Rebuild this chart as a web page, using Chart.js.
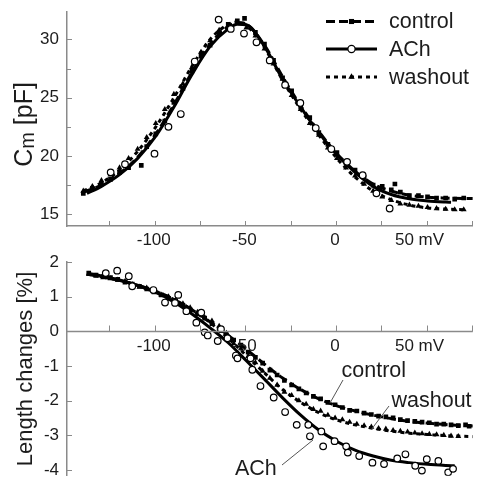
<!DOCTYPE html>
<html><head><meta charset="utf-8">
<script src="https://cdn.jsdelivr.net/npm/chart.js@4.4.1/dist/chart.umd.min.js"></script>
<style>
html,body{margin:0;padding:0;background:#fff;}
body{width:478px;height:481px;position:relative;overflow:hidden;}
canvas{position:absolute;left:0;}
#topChart{top:0}
#botChart{top:240px}
</style></head><body>
<canvas id="topChart" width="478" height="250"></canvas>
<canvas id="botChart" width="478" height="241"></canvas>
<script>
// ---------- axis ticks / labels ----------
const xTickMarks = [-125,-100,-75,-50,-25,0,25,50,75];
const xLabelValues = [-100,-50,0,50];
const xLabelTexts = ['-100','-50','0','50 mV'];
const cmTickLabels = [15,20,25,30];
const cmTickMarks = [15,17.5,20,22.5,25,27.5,30];
const lenTickLabels = [2,1,0,-1,-2,-3,-4];
const seriesNames = ['control','ACh','washout'];

// ---------- top panel: Cm [pF] ----------
// fitted curves
const cmFitVoltsControl = [-140,-130,-120,-110,-100,-90,-80,-70,-60,-55,-50,-40,-30,-20,-10,0,10,20,30,40,50,60,70,75];
const cmFitControl      = [16.9,17.5,18.5,19.9,21.9,24.4,27.2,29.6,31.1,31.45,31.3,29.5,26.8,24.3,22.1,20.2,18.7,17.6,17.0,16.65,16.47,16.4,16.36,16.35];
const cmFitVoltsACh     = [-138,-130,-120,-110,-100,-90,-80,-70,-60,-55,-50,-40,-30,-20,-10,0,10,20,30,40,50,60,63];
const cmFitACh          = [16.8,17.4,18.4,19.8,21.7,24.2,27.0,29.4,30.9,31.3,31.25,29.4,26.6,24.2,22.0,20.1,18.6,17.4,16.7,16.33,16.15,16.05,16.03];
const cmFitVoltsWashout = [-140,-130,-120,-110,-100,-90,-80,-70,-60,-55,-50,-40,-30,-20,-10,0,10,20,30,40,50,60,70];
const cmFitWashout      = [17.0,17.7,18.8,20.4,22.5,25.0,27.7,30.0,31.3,31.5,31.2,29.3,26.5,24.0,21.8,19.8,18.2,17.0,16.25,15.8,15.55,15.45,15.4];
// measured points
const cmControlVolts = [-140,-135,-130,-125,-120,-115,-108,-105,-100,-95,-90,-85,-80,-75,-70,-65,-60,-55,-51,-45,-40,-35,-30,-25,-20,-15,-10,-5,0,5,10,15,20,25,30,32,35,40,45,50,55,60,65,70];
const cmControl      = [16.8,17.2,17.6,18.0,18.6,19.0,19.2,20.8,21.9,23.0,24.6,25.8,27.3,28.6,29.5,30.6,31.3,31.6,31.8,30.6,29.6,28.2,26.7,25.6,24.2,23.3,22.0,21.0,20.3,19.4,18.8,18.2,17.5,17.4,17.1,17.6,16.9,16.6,16.6,16.5,16.4,16.4,16.3,16.4];
const cmAChVolts = [-124.9,-117,-100.7,-93,-86.2,-78.5,-65.3,-58.6,-51.3,-44.4,-37.1,-28.6,-20.2,-11.7,-3.1,5.6,14.2,21.8,29.1];
const cmACh      = [18.6,19.3,20.2,22.5,23.6,28.1,31.7,30.9,30.5,29.75,28.2,26.1,24.55,22.4,20.6,19.5,18.35,16.8,15.5];
const cmWashoutVolts = [-140,-135,-130,-125,-120,-115,-110,-105,-100,-95,-90,-85,-80,-75,-70,-65,-60,-55,-50,-45,-40,-35,-30,-25,-20,-15,-10,-5,0,5,10,15,20,25,30,35,40,45,50,55,60,65,70];
const cmWashout      = [17.0,17.4,17.9,18.4,19.0,19.8,20.6,21.6,22.8,24.0,25.3,26.2,27.6,28.9,29.9,30.8,31.2,31.4,31.0,30.3,29.2,27.9,26.6,25.2,24.0,22.8,21.8,20.7,19.8,19.0,18.3,17.6,17.0,16.5,16.2,15.9,15.8,15.7,15.6,15.5,15.45,15.4,15.4];

// ---------- bottom panel: Length changes [%] ----------
const lenFitVolts        = [-138,-130,-120,-110,-100,-90,-80,-70,-60,-50,-40,-30,-20,-10,0,10,20,30,40,50,60,70,75];
const lenFitControl      = [1.65,1.57,1.47,1.33,1.15,0.92,0.62,0.27,-0.12,-0.52,-0.95,-1.35,-1.68,-1.95,-2.15,-2.3,-2.42,-2.52,-2.6,-2.65,-2.69,-2.72,-2.73];
const lenFitWashout      = [1.65,1.57,1.47,1.33,1.15,0.92,0.62,0.25,-0.2,-0.7,-1.2,-1.68,-2.05,-2.35,-2.56,-2.7,-2.8,-2.88,-2.94,-2.98,-3.01,-3.03,-3.04];
const lenFitVoltsACh     = [-138,-130,-120,-110,-100,-90,-80,-70,-60,-50,-40,-30,-20,-10,0,10,20,30,40,50,60,65];
const lenFitACh          = [1.68,1.6,1.48,1.32,1.12,0.85,0.5,0.1,-0.33,-0.85,-1.38,-1.92,-2.42,-2.85,-3.18,-3.43,-3.6,-3.72,-3.79,-3.84,-3.87,-3.88];
const lenControlVolts = [-137,-133,-129,-125,-121,-117,-113,-109,-105,-101,-97,-93,-89,-85,-81,-77,-73,-69,-65,-61,-57,-53,-49,-45,-41,-37,-33,-29,-25,-21,-17,-13,-9,-5,-1,3,7,11,15,19,23,27,31,35,39,43,47,51,55,59,63,67,71,73];
const lenControl      = [1.68,1.62,1.58,1.55,1.5,1.42,1.36,1.3,1.22,1.14,1.05,0.95,0.88,0.75,0.62,0.5,0.38,0.22,0.08,-0.1,-0.25,-0.4,-0.6,-0.75,-0.92,-1.12,-1.26,-1.42,-1.55,-1.66,-1.78,-1.88,-1.95,-2.05,-2.12,-2.2,-2.28,-2.3,-2.36,-2.4,-2.45,-2.47,-2.5,-2.55,-2.58,-2.6,-2.62,-2.64,-2.68,-2.68,-2.7,-2.72,-2.7,-2.74];
const lenWashoutVolts = [-137,-133,-129,-125,-121,-117,-113,-109,-105,-101,-97,-93,-89,-85,-81,-77,-73,-69,-65,-61,-57,-53,-49,-45,-41,-37,-33,-29,-25,-21,-17,-13,-9,-5,-1,3,7,11,15,19,23,27,31,35,39,43,47,51,55,59,63,67];
const lenWashout      = [1.65,1.6,1.55,1.52,1.48,1.44,1.35,1.28,1.25,1.18,1.05,1.0,0.9,0.8,0.68,0.55,0.4,0.3,0.15,-0.05,-0.35,-0.5,-0.72,-0.9,-1.15,-1.35,-1.55,-1.75,-1.85,-2.0,-2.1,-2.25,-2.3,-2.42,-2.5,-2.55,-2.62,-2.68,-2.72,-2.76,-2.8,-2.82,-2.86,-2.88,-2.9,-2.93,-2.95,-2.97,-2.98,-3.0,-3.02,-3.03];
const lenAChVolts = [-127.6,-121.3,-114.9,-113,-101.3,-94.9,-89.4,-87.6,-83.1,-77.6,-74.9,-73,-71.3,-65.8,-64,-60.4,-55.8,-54.9,-47.7,-46.7,-42.2,-34.9,-28.6,-22.2,-15.8,-14.9,-8.6,-7.6,-1.3,5.1,6,12.3,19.6,26,33.3,37.8,43.2,46.9,49.6,56,61.4,64.1];
const lenACh      = [1.68,1.75,1.59,1.3,1.19,0.83,0.82,1.05,0.58,0.25,0.54,-0.03,-0.12,-0.28,0.06,-0.2,-0.7,-0.78,-0.78,-1.11,-1.58,-1.91,-2.33,-2.7,-2.7,-3.03,-2.89,-3.32,-3.17,-3.32,-3.5,-3.6,-3.79,-3.83,-3.67,-3.55,-3.88,-4.02,-3.69,-3.74,-4.07,-3.97];

// ---------- styling ----------
const FONT = '"Liberation Sans", Arial, Helvetica, sans-serif';
const AXIS = '#8a8a8a';
const TEXT = '#1c1c1c';
Chart.defaults.font.family = FONT;
Chart.defaults.color = TEXT;

const toXY = (xs, ys) => xs.map((v, i) => ({x: v, y: ys[i]}));
const styles = {
  control: {dash: [9, 4], point: 'rect', fill: '#000', radius: 3.3, bw: 0},
  ACh:     {dash: [],     point: 'circle', fill: '#fff', radius: 3.3, bw: 1.2},
  washout: {dash: [4, 4], point: 'triangle', fill: '#000', radius: 3.4, bw: 0}
};
function fitDs(name, xs, ys, order) {
  return {label: name + ' fit', data: toXY(xs, ys), showLine: true, borderColor: '#000', borderWidth: 3,
    borderDash: styles[name].dash, pointRadius: 0, cubicInterpolationMode: 'monotone', order: order};
}
function ptDs(name, xs, ys, order) {
  const s = styles[name];
  return {label: name, data: toXY(xs, ys), showLine: false, pointStyle: s.point, pointRadius: s.radius,
    backgroundColor: s.fill, borderColor: '#000', borderWidth: s.bw, order: order};
}

function drawMarker(ctx, name, x, y) {
  const s = styles[name];
  ctx.save();
  ctx.fillStyle = s.fill; ctx.strokeStyle = '#000'; ctx.lineWidth = s.bw || 0.001;
  if (Chart.helpers && Chart.helpers.drawPoint) {
    Chart.helpers.drawPoint(ctx, {pointStyle: s.point, radius: s.radius + 0.3, rotation: 0, borderWidth: s.bw}, x, y);
  }
  ctx.restore();
}

function rotatedTitle(ctx, cx, cy, parts) {
  ctx.save();
  ctx.translate(cx, cy); ctx.rotate(-Math.PI / 2);
  ctx.fillStyle = TEXT; ctx.textAlign = 'left'; ctx.textBaseline = 'alphabetic';
  let total = 0;
  parts.forEach(p => { ctx.font = p.size + 'px ' + FONT; p.w = ctx.measureText(p.t).width; total += p.w; });
  let sx = -total / 2;
  parts.forEach(p => { ctx.font = p.size + 'px ' + FONT; ctx.fillText(p.t, sx, p.dy || 0); sx += p.w; });
  ctx.restore();
}

const topDecor = {
  id: 'topDecor',
  afterDraw(chart) {
    const {ctx, chartArea: a, scales: {x, y}} = chart;
    ctx.save();
    ctx.strokeStyle = AXIS; ctx.lineWidth = 1;
    ctx.beginPath();
    xTickMarks.forEach(v => { const p = Math.round(x.getPixelForValue(v)) - 0.5; ctx.moveTo(p, a.bottom); ctx.lineTo(p, a.bottom - 5); });
    cmTickMarks.forEach(v => { const p = Math.round(y.getPixelForValue(v)) + 0.5; const len = (v % 5 === 0) ? 5 : 4; ctx.moveTo(a.left, p); ctx.lineTo(a.left + len, p); });
    ctx.stroke();
    ctx.fillStyle = TEXT; ctx.font = '17px ' + FONT; ctx.textAlign = 'center'; ctx.textBaseline = 'alphabetic';
    xLabelValues.forEach((v, i) => {
      const t = xLabelTexts[i]; const shift = t.indexOf('mV') >= 0 ? -8 : -2;
      ctx.fillText(t, x.getPixelForValue(v) + shift, a.bottom + 19);
    });
    rotatedTitle(ctx, 32, 124.5, [{t: 'C', size: 25}, {t: 'm', size: 20, dy: 2}, {t: ' [pF]', size: 25}]);
    // legend
    const rowsY = [21.5, 49, 77];
    const names = ['control', 'ACh', 'washout'];
    names.forEach((n, i) => {
      const ly = rowsY[i];
      ctx.save();
      ctx.strokeStyle = '#000'; ctx.lineWidth = 3; ctx.setLineDash(styles[n].dash);
      ctx.beginPath(); ctx.moveTo(326, ly); ctx.lineTo(377, ly); ctx.stroke();
      ctx.restore();
      drawMarker(ctx, n, 351.5, ly);
      ctx.fillStyle = TEXT; ctx.font = '21.5px ' + FONT; ctx.textAlign = 'left';
      ctx.fillText(seriesNames[seriesNames.indexOf(n)], 389, ly + 6.8);
    });
    ctx.restore();
  }
};

const botDecor = {
  id: 'botDecor',
  afterDraw(chart) {
    const {ctx, chartArea: a, scales: {x, y}} = chart;
    const y0 = Math.round(y.getPixelForValue(0)) + 0.5;
    ctx.save();
    ctx.strokeStyle = AXIS; ctx.lineWidth = 1.5;
    ctx.beginPath(); ctx.moveTo(a.left, y0); ctx.lineTo(a.right, y0); ctx.stroke();
    ctx.lineWidth = 1;
    ctx.beginPath();
    xTickMarks.forEach(v => { const p = Math.round(x.getPixelForValue(v)) - 0.5; ctx.moveTo(p, y0); ctx.lineTo(p, y0 - 6); });
    lenTickLabels.forEach(v => { const p = Math.round(y.getPixelForValue(v)) + 0.5; ctx.moveTo(a.left, p); ctx.lineTo(a.left + 5, p); });
    ctx.stroke();
    ctx.fillStyle = TEXT; ctx.font = '17px ' + FONT; ctx.textAlign = 'center'; ctx.textBaseline = 'alphabetic';
    xLabelValues.forEach((v, i) => {
      const t = xLabelTexts[i]; const shift = t.indexOf('mV') >= 0 ? -8 : -2;
      ctx.fillText(t, x.getPixelForValue(v) + shift, y0 + 19.5);
    });
    rotatedTitle(ctx, 32, 129, [{t: 'Length changes [%]', size: 22}]);
    // curve annotations
    ctx.font = '21.5px ' + FONT; ctx.textAlign = 'left';
    ctx.fillText('control', 341.5, 136.5);
    ctx.fillText('washout', 391.5, 166.5);
    ctx.fillText('ACh', 235, 235);
    ctx.strokeStyle = '#555'; ctx.lineWidth = 1;
    ctx.beginPath();
    ctx.moveTo(343, 140); ctx.lineTo(330, 163);
    ctx.moveTo(389, 166); ctx.lineTo(371, 190);
    ctx.moveTo(282, 225); ctx.lineTo(313, 200);
    ctx.stroke();
    ctx.restore();
  }
};

const baseOptions = (yMin, yMax, yTicks, padTop, showXBorder) => ({
  responsive: false, animation: false, events: [],
  layout: {padding: {top: padTop, left: 0, right: 0, bottom: 0}},
  plugins: {legend: {display: false}, tooltip: {enabled: false}},
  scales: {
    x: {type: 'linear', min: -149, max: 75, display: showXBorder,
        grid: {display: false, drawTicks: false}, border: {display: true, color: AXIS, width: 1.5},
        ticks: {display: false},
        afterFit(s) { s.height = showXBorder ? 24 : 0; s.paddingLeft = 0; s.paddingRight = 0; }},
    y: {type: 'linear', min: yMin, max: yMax,
        grid: {display: false, drawTicks: false}, border: {display: true, color: AXIS, width: 1.5},
        ticks: {font: {size: 17}, color: TEXT, padding: 8},
        afterBuildTicks(s) { s.ticks = yTicks.map(v => ({value: v})); },
        afterFit(s) { s.width = 67; s.paddingTop = 0; s.paddingBottom = 0; }}
  }
});

new Chart(document.getElementById('topChart'), {
  type: 'scatter',
  data: {datasets: [
    fitDs('control', cmFitVoltsControl, cmFitControl, 6),
    fitDs('washout', cmFitVoltsWashout, cmFitWashout, 5),
    fitDs('ACh', cmFitVoltsACh, cmFitACh, 4),
    ptDs('control', cmControlVolts, cmControl, 3),
    ptDs('washout', cmWashoutVolts, cmWashout, 2),
    ptDs('ACh', cmAChVolts, cmACh, 0)
  ]},
  options: baseOptions(14, 32.35, cmTickLabels, 12, true),
  plugins: [topDecor]
});

new Chart(document.getElementById('botChart'), {
  type: 'scatter',
  data: {datasets: [
    fitDs('control', lenFitVolts, lenFitControl, 6),
    fitDs('washout', lenFitVolts, lenFitWashout, 5),
    fitDs('ACh', lenFitVoltsACh, lenFitACh, 4),
    ptDs('control', lenControlVolts, lenControl, 3),
    ptDs('washout', lenWashoutVolts, lenWashout, 2),
    ptDs('ACh', lenAChVolts, lenACh, 0)
  ]},
  options: baseOptions(-4.17, 2, lenTickLabels, 22, false),
  plugins: [botDecor]
});
</script>
</body></html>
